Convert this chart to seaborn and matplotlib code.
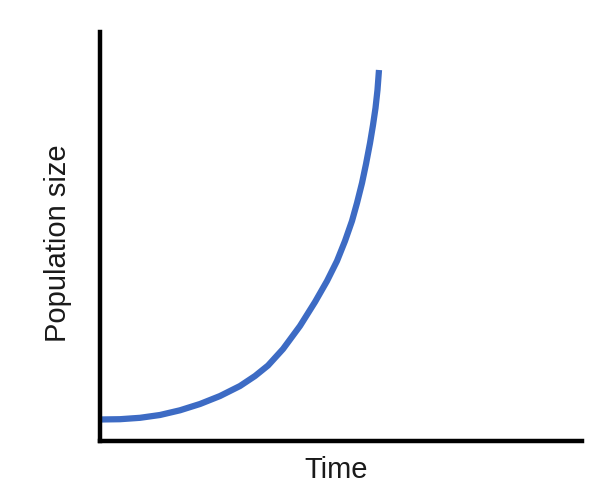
import matplotlib
matplotlib.use("Agg")
import matplotlib.pyplot as plt
import seaborn as sns
import pandas as pd

# values (arbitrary units)
time = [0.0, 0.415, 0.830, 1.245, 1.660, 2.075, 2.490, 2.905, 3.216, 3.486,
        3.797, 4.149, 4.461, 4.710, 4.917, 5.083, 5.228, 5.332, 5.436, 5.519,
        5.602, 5.664, 5.716, 5.757, 5.788]
population = [5.26, 5.33, 5.67, 6.36, 7.51, 9.05, 11.0, 13.45, 15.89, 18.46,
              22.49, 28.12, 33.99, 39.12, 44.01, 48.90, 53.79, 58.19, 63.08, 67.73,
              72.86, 77.26, 81.42, 85.82, 90.71]
x_label = "Time"
y_label = "Population size"

sns.set_theme(style="white")
plt.rcParams["font.family"] = ["Liberation Sans", "DejaVu Sans"]

df = pd.DataFrame({"Time": time, "Population": population})

fig = plt.figure(figsize=(6.16, 4.98), dpi=100)
ax = fig.add_axes([100 / 616, 1 - 441 / 498, 482 / 616, 409 / 498])

sns.lineplot(data=df, x="Time", y="Population", ax=ax, sort=False,
             color="#3d6bc4", linewidth=4.5, solid_capstyle="butt",
             solid_joinstyle="round")

ax.set_xlim(0, 10)
ax.set_ylim(0, 100)
ax.set_xticks([])
ax.set_yticks([])
ax.set_xlabel("")
ax.set_ylabel("")
for s in ["top", "right"]:
    ax.spines[s].set_visible(False)
for s in ["left", "bottom"]:
    ax.spines[s].set_color("black")
    ax.spines[s].set_linewidth(3.2)
    ax.spines[s].set_capstyle("projecting")

fig.text(336 / 616, 1 - 470 / 498, x_label, ha="center", va="center", fontsize=21, color="#1a1a1a")
fig.text(58 / 616, 1 - 243 / 498, y_label, ha="center", va="center", rotation=90, fontsize=21, color="#1a1a1a")

fig.savefig("out.png", dpi=100, facecolor="white")
